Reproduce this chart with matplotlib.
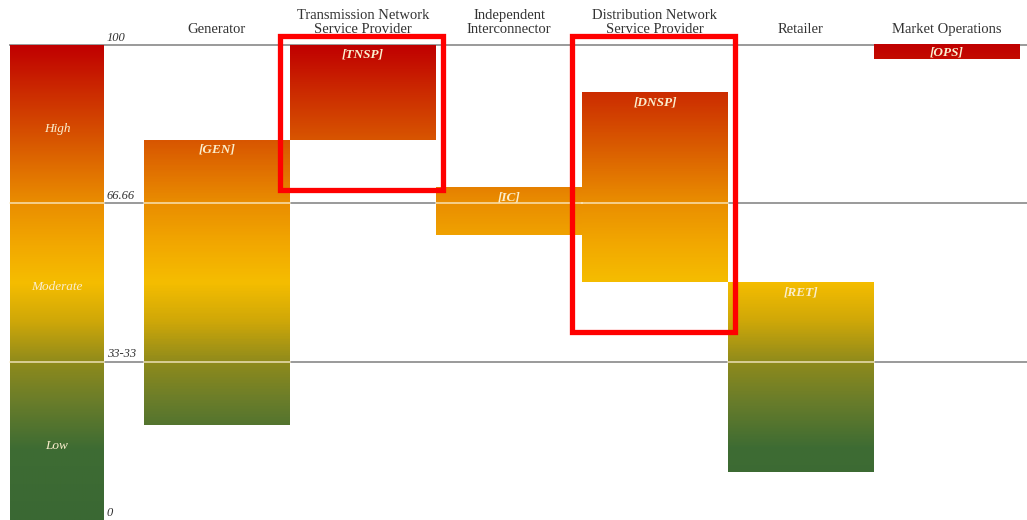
"""
Risk rating by market participant type, drawn as floating gradient bars.
"""

import matplotlib.pyplot as plt
import matplotlib.patches as patches
from matplotlib.colors import LinearSegmentedColormap
import numpy as np

categories = [
    "Generator",
    "Transmission Network\nService Provider",
    "Independent\nInterconnector",
    "Distribution Network\nService Provider",
    "Retailer",
    "Market Operations",
]
codes = ["[GEN]", "[TNSP]", "[IC]", "[DNSP]", "[RET]", "[OPS]"]
risk_low = [20, 80, 60, 50, 10, 97]
risk_high = [80, 100, 70, 90, 50, 100]

band_edges = [0, 33.33, 66.66, 100]
band_names = ["Low", "Moderate", "High"]
tick_labels = ["0", "33-33", "66.66", "100"]

highlighted = ["[TNSP]", "[DNSP]"]

# colour by risk value (0 = green, 50 = yellow, 100 = red)
risk_cmap = LinearSegmentedColormap.from_list("risk", [
    (0.00, "#3a6833"),
    (0.15, "#3e6c33"),
    (0.25, "#6a7d2a"),
    (0.33, "#8e8a1c"),
    (0.42, "#d0a808"),
    (0.50, "#f5bd00"),
    (0.58, "#f2a800"),
    (0.667, "#ea8e00"),
    (0.80, "#d85600"),
    (0.90, "#cc2c00"),
    (1.00, "#c00000"),
])

SERIF = ["Liberation Serif", "DejaVu Serif"]
CREAM = "#fbeecd"


def gradient_bar(ax, x0, x1, lo, hi):
    """Fill a rectangle with the value gradient between lo and hi."""
    grad = np.linspace(lo, hi, 256).reshape(-1, 1)
    ax.imshow(grad, cmap=risk_cmap, vmin=0, vmax=100, origin='lower',
              extent=(x0, x1, lo, hi), aspect='auto', interpolation='bilinear',
              zorder=2)


def light_lines(ax, x0, x1, lo, hi):
    """Pale grid lines drawn across a bar."""
    for y in band_edges[1:3]:
        if lo < y < hi:
            ax.plot([x0, x1], [y, y], color=CREAM, linewidth=1.2, alpha=0.8, zorder=3)


def main():
    fig = plt.figure(figsize=(10.27, 5.2), dpi=100)
    ax = fig.add_axes([0, 0, 1, 1])
    ax.axis('off')

    # x: one unit per column, scale bar sits to the left of column 0
    px = 146.0
    scale_x0, scale_x1 = (10 - 144) / px, (104 - 144) / px
    xlim = (-144 / px, (1027 - 144) / px)
    ylim = (0, 100 + 45 / 4.75)

    # grid lines (behind bars)
    for y in band_edges[1:]:
        start = scale_x0 if y == 100 else scale_x1
        ax.plot([start, xlim[1]], [y, y], color='#9a9a9a', linewidth=1.4, zorder=1)

    # scale bar
    gradient_bar(ax, scale_x0, scale_x1, 0, 100)
    light_lines(ax, scale_x0, scale_x1, 0, 100)
    for name, lo, hi in zip(band_names, band_edges[:-1], band_edges[1:]):
        ax.text((scale_x0 + scale_x1) / 2, (lo + hi) / 2 - 1, name, ha='center', va='center',
                fontsize=9.5, style='italic', color=CREAM, family=SERIF, zorder=4)
    for y, lab in zip(band_edges, tick_labels):
        ax.text(scale_x1 + 0.02, y + 0.3, lab, ha='left', va='bottom',
                fontsize=9, style='italic', color='#333333', family=SERIF, zorder=4)

    # participant bars
    for i, (cat, code, lo, hi) in enumerate(zip(categories, codes, risk_low, risk_high)):
        gradient_bar(ax, i, i + 1, lo, hi)
        light_lines(ax, i, i + 1, lo, hi)
        if hi - lo < 5:
            ax.text(i + 0.5, (lo + hi) / 2, code, ha='center', va='center', fontsize=9.5,
                    style='italic', fontweight='bold', color=CREAM, family=SERIF, zorder=4)
        else:
            ax.text(i + 0.5, hi - 0.8, code, ha='center', va='top', fontsize=9.5,
                    style='italic', fontweight='bold', color=CREAM, family=SERIF, zorder=4)
        ax.text(i + 0.5, 101.8, cat, ha='center', va='bottom', fontsize=10.5,
                color='#333333', family=SERIF, linespacing=1.15, zorder=4)

        if code in highlighted:
            box = patches.Rectangle((i - 0.07, lo - 10.5), 1.12, 101.8 - (lo - 10.5),
                                    fill=False, edgecolor='#ff0000', linewidth=3.8,
                                    zorder=5, clip_on=False)
            ax.add_patch(box)

    ax.set_xlim(*xlim)
    ax.set_ylim(*ylim)

    fig.savefig("out.png", dpi=100, facecolor='white')


if __name__ == "__main__":
    main()
